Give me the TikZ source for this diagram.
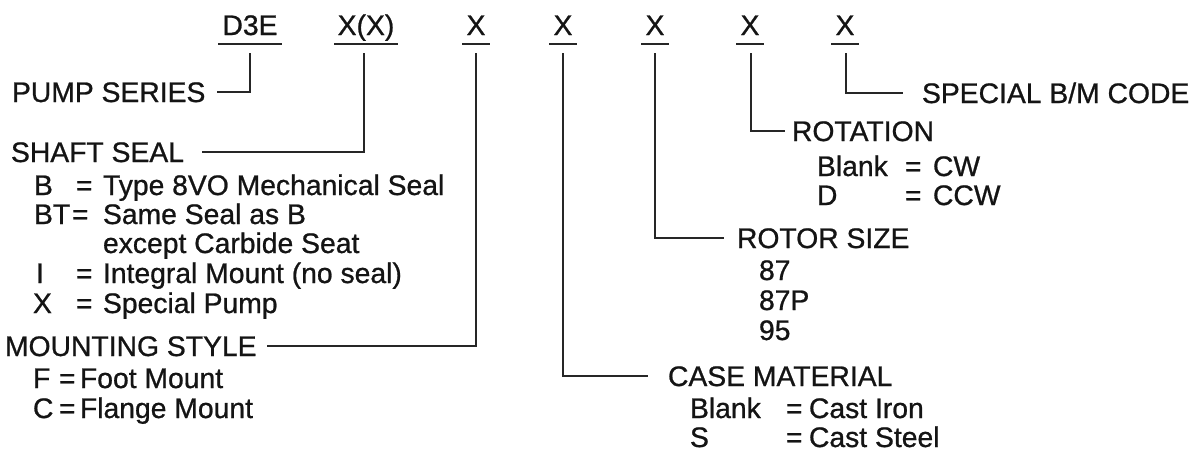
\documentclass[tikz,border=0pt]{standalone}
\usepackage{fontspec}
\setmainfont{Liberation Sans}[FakeBold=0.8]
\usetikzlibrary{calc}
\begin{document}
\begin{tikzpicture}[x=1pt,y=-1pt,
  every node/.style={inner sep=0pt,outer sep=0pt,text=black!92,font=\fontsize{28.3}{28.3}\selectfont},
  code/.style={anchor=base},
  title/.style={anchor=base west,text height=20pt,text depth=0pt},
  item/.style={anchor=base west},
  wire/.style={line width=1.1pt,draw=black!85},
  uline/.style={line width=1.4pt,draw=black!85}]
\useasboundingbox[fill=white] (0,0) rectangle (1198,459);

% code row
\node[code] (c1) at (250,35) {D3E};
\node[code] (c2) at (366,35) {X(X)};
\node[code] (c3) at (476,35) {X};
\node[code] (c4) at (563,35) {X};
\node[code] (c5) at (655,35) {X};
\node[code] (c6) at (750,35) {X};
\node[code] (c7) at (845,35) {X};
\draw[uline] ($(c1.base)+(-32,9)$) -- ($(c1.base)+(32,9)$);
\draw[uline] ($(c2.base)+(-32,9)$) -- ($(c2.base)+(32,9)$);
\foreach \c in {c3,c4,c5,c6,c7}
  \draw[uline] ($(\c.base)+(-14,9)$) -- ($(\c.base)+(14,9)$);

% left titles
\node[title] (pump) at (12,102) {PUMP SERIES};
\node[title] (shaft) at (11,162) {SHAFT SEAL};
\node[title] (mount) at (5,356) {MOUNTING STYLE};

% shaft seal items
\node[item] (sb) at (34,195) {\makebox[42pt][l]{B}\makebox[27pt][l]{=}Type 8VO Mechanical Seal};
\node[item] (sbt) at (34,224) {\makebox[38pt][l]{BT}\makebox[31pt][l]{=}Same Seal as B};
\node[item] (sexc) at (103,253) {except Carbide Seat};
\node[item] (si) at (36,283) {\makebox[40pt][l]{I}\makebox[27pt][l]{=}Integral Mount (no seal)};
\node[item] (sx) at (33,313) {\makebox[43pt][l]{X}\makebox[27pt][l]{=}Special Pump};

% mounting items
\node[item] (mf) at (33,388) {\makebox[26pt][l]{F}\makebox[21pt][l]{=}Foot Mount};
\node[item] (mc) at (33,418) {\makebox[26pt][l]{C}\makebox[21pt][l]{=}Flange Mount};

% right titles
\node[title] (special) at (922,103) {SPECIAL B/M CODE};
\node[title] (rot) at (792,141) {ROTATION};
\node[title] (rotor) at (737,248) {ROTOR SIZE};
\node[title] (case) at (668,386) {CASE MATERIAL};

% rotation items
\node[item] (rcw) at (817,176) {\makebox[88pt][l]{Blank}\makebox[28pt][l]{=}CW};
\node[item] (rccw) at (817,205) {\makebox[88pt][l]{D}\makebox[28pt][l]{=}CCW};

% rotor sizes
\node[item] (r87) at (759,280) {87};
\node[item] (r87p) at (759,310) {87P};
\node[item] (r95) at (759,340) {95};

% case items
\node[item] (ci) at (690,418) {\makebox[96pt][l]{Blank}\makebox[23pt][l]{=}Cast Iron};
\node[item] (cs) at (690,447) {\makebox[96pt][l]{S}\makebox[23pt][l]{=}Cast Steel};

% connectors
\draw[wire] ($(c1.base)+(0,18)$) |- ($(pump.east)+(12,0)$);
\draw[wire] ($(c2.base)+(-2,18)$) |- ($(shaft.east)+(18,0)$);
\draw[wire] ($(c3.base)+(0,18)$) |- ($(mount.east)+(10,0)$);
\draw[wire] ($(c4.base)+(0,18)$) |- ($(case.west)+(-20,0)$);
\draw[wire] ($(c5.base)+(0,18)$) |- ($(rotor.west)+(-13,0)$);
\draw[wire] ($(c6.base)+(1,18)$) |- ($(rot.west)+(-7,0)$);
\draw[wire] ($(c7.base)+(1,18)$) |- ($(special.west)+(-19,0)$);
\end{tikzpicture}
\end{document}
